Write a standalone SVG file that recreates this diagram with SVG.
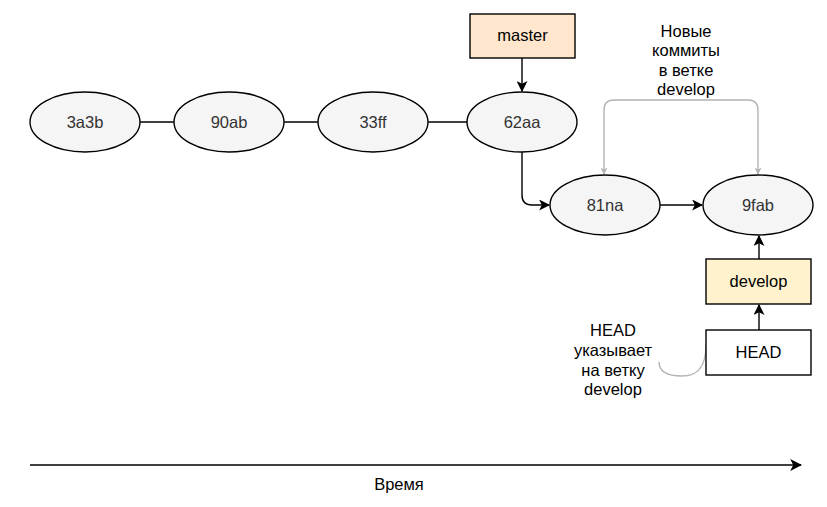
<svg xmlns="http://www.w3.org/2000/svg" width="827" height="507" viewBox="0 0 827 507">
<defs>
<style>
.n{fill:#f5f5f5;stroke:#000;stroke-width:1.4}
.t{font-family:"Liberation Sans",Arial,sans-serif;font-size:16.5px;text-anchor:middle;fill:#000}
.g{fill:#333}
.e{fill:none;stroke:#000;stroke-width:1.4}
.gr{fill:none;stroke:#b3b3b3;stroke-width:1.4}
</style>
<marker id="a" viewBox="0 0 10 10" refX="9" refY="5" markerWidth="11" markerHeight="11" orient="auto" markerUnits="userSpaceOnUse"><path d="M0,0 L10,5 L0,10 L2.5,5 Z" fill="#000"/></marker>
<marker id="ag" viewBox="0 0 10 10" refX="9" refY="5" markerWidth="7" markerHeight="7" orient="auto" markerUnits="userSpaceOnUse"><path d="M0,0 L10,5 L0,10 L2.5,5 Z" fill="#b3b3b3"/></marker>
<marker id="at" viewBox="0 0 10 10" refX="9" refY="5" markerWidth="12" markerHeight="12" orient="auto" markerUnits="userSpaceOnUse"><path d="M0,0 L10,5 L0,10 L2.5,5 Z" fill="#000"/></marker>
</defs>
<rect width="827" height="507" fill="#fff"/>
<g id="connectors">
<path class="e" d="M140,122 H174"/>
<path class="e" d="M284,122 H318"/>
<path class="e" d="M428,122 H467"/>
<path class="e" d="M522,58 V91" marker-end="url(#a)"/>
<path class="e" d="M522,152 V195 Q522,205 532,205 H549" marker-end="url(#a)"/>
<path class="e" d="M660,205 H702" marker-end="url(#a)"/>
<path class="e" d="M759,259 V236" marker-end="url(#a)"/>
<path class="e" d="M759,330 V305" marker-end="url(#a)"/>
<path class="gr" d="M681,100 H614 Q604,100 604,110 V174" marker-end="url(#ag)"/>
<path class="gr" d="M681,100 H748 Q758,100 758,110 V174" marker-end="url(#ag)"/>
<path class="gr" d="M706,345 C706,370 695,376 682,376 C668,376 659,372 659,362"/>
<path d="M30,465 H801" stroke="#000" stroke-width="1.5" fill="none" marker-end="url(#at)"/>
</g>
<g id="n3a3b"><ellipse class="n" cx="85" cy="122" rx="55" ry="30"/><text class="t g" x="85" y="128">3a3b</text></g>
<g id="n90ab"><ellipse class="n" cx="229" cy="122" rx="55" ry="30"/><text class="t g" x="229" y="128">90ab</text></g>
<g id="n33ff"><ellipse class="n" cx="373" cy="122" rx="55" ry="30"/><text class="t g" x="373" y="128">33ff</text></g>
<g id="n62aa"><ellipse class="n" cx="522" cy="122" rx="55" ry="30"/><text class="t g" x="522" y="128">62aa</text></g>
<g id="n81na"><ellipse class="n" cx="605" cy="205" rx="55" ry="30"/><text class="t g" x="605" y="211">81na</text></g>
<g id="n9fab"><ellipse class="n" cx="758" cy="205" rx="55" ry="30"/><text class="t g" x="758" y="211">9fab</text></g>
<g id="master"><rect x="470" y="14" width="105" height="44" fill="#ffe6cc" stroke="#000" stroke-width="1.4"/><text class="t" x="522.5" y="41">master</text></g>
<g id="develop"><rect x="706" y="259" width="105" height="45" fill="#fff2cc" stroke="#000" stroke-width="1.4"/><text class="t" x="758.5" y="287">develop</text></g>
<g id="head"><rect x="706" y="330" width="105" height="45" fill="#fff" stroke="#000" stroke-width="1.4"/><text class="t" x="758.5" y="358">HEAD</text></g>
<g id="label-new"><text class="t" x="686" y="37">Новые</text><text class="t" x="686" y="56">коммиты</text><text class="t" x="686" y="76">в ветке</text><text class="t" x="686" y="95">develop</text></g>
<g id="label-head"><text class="t" x="613" y="336">HEAD</text><text class="t" x="613" y="356">указывает</text><text class="t" x="613" y="376">на ветку</text><text class="t" x="613" y="395">develop</text></g>
<g id="label-time"><text class="t" x="399" y="490">Время</text></g>
</svg>
